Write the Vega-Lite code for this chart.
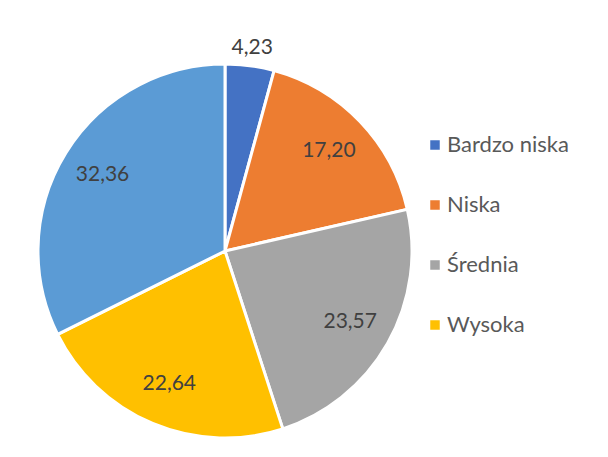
{
  "$schema": "https://vega.github.io/schema/vega-lite/v6.json",
  "width": 374,
  "height": 374,
  "autosize": {"type": "none"},
  "padding": {"left": 38, "top": 64, "right": 196, "bottom": 19},
  "background": "white",
  "config": {
    "view": {"stroke": null},
    "font": "Lato",
    "locale": {"number": {"decimal": ",", "thousands": " ", "grouping": [3], "currency": ["", " zł"]}}
  },
  "data": {
    "values": [
      {"kategoria": "Bardzo niska", "value": 4.23, "idx": 1},
      {"kategoria": "Niska", "value": 17.20, "idx": 2},
      {"kategoria": "Średnia", "value": 23.57, "idx": 3},
      {"kategoria": "Wysoka", "value": 22.64, "idx": 4},
      {"kategoria": "Bardzo wysoka", "value": 32.36, "idx": 5}
    ]
  },
  "encoding": {
    "theta": {"field": "value", "type": "quantitative", "stack": true},
    "order": {"field": "idx", "type": "quantitative"}
  },
  "layer": [
    {
      "mark": {"type": "arc", "outerRadius": 187, "stroke": "white", "strokeWidth": 3},
      "encoding": {
        "color": {
          "field": "kategoria",
          "type": "nominal",
          "scale": {
            "domain": ["Bardzo niska", "Niska", "Średnia", "Wysoka", "Bardzo wysoka"],
            "range": ["#4472C4", "#ED7D31", "#A5A5A5", "#FFC000", "#5B9BD5"]
          },
          "legend": {
            "orient": "none",
            "legendX": 386,
            "legendY": 70,
            "values": ["Bardzo niska", "Niska", "Średnia", "Wysoka"],
            "title": null,
            "symbolType": "square",
            "symbolSize": 90,
            "symbolStrokeWidth": 0,
            "labelFontSize": 22,
            "labelFont": "Lato",
            "labelColor": "#595959",
            "labelOffset": 1,
            "rowPadding": 38
          }
        }
      }
    },
    {
      "mark": {"type": "text", "radius": 144, "fontSize": 21, "color": "#404040"},
      "encoding": {
        "text": {
          "condition": {"test": "datum.value >= 5", "field": "value", "type": "quantitative", "format": ".2f"},
          "value": ""
        }
      }
    },
    {
      "mark": {"type": "text", "radius": 205, "fontSize": 21, "color": "#404040"},
      "encoding": {
        "text": {
          "condition": {"test": "datum.value < 5", "field": "value", "type": "quantitative", "format": ".2f"},
          "value": ""
        }
      }
    }
  ]
}
